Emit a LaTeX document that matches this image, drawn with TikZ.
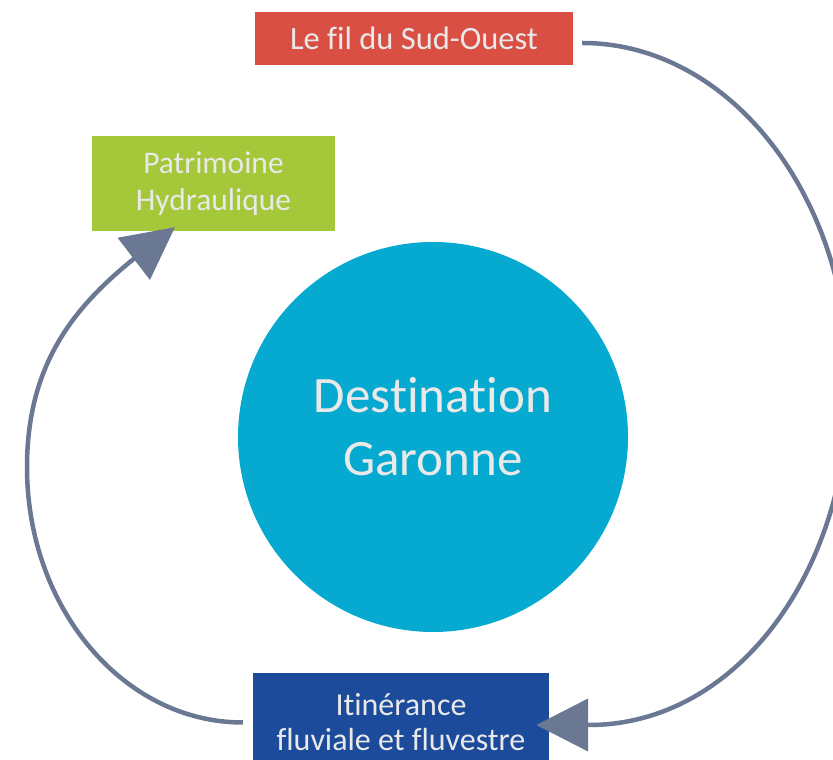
\documentclass[tikz,border=0pt]{standalone}
\usepackage{fontspec}
\setmainfont[Ligatures=NoCommon]{Carlito}
\usetikzlibrary{arrows.meta,bending}
\definecolor{sudred}{HTML}{D94F43}
\definecolor{patgreen}{HTML}{A5C83B}
\definecolor{itinblue}{HTML}{1C4B9C}
\definecolor{garcyan}{HTML}{06A9CF}
\definecolor{linkgray}{HTML}{6B7893}
\definecolor{labelgray}{HTML}{E9E9E9}

\begin{document}
\begin{tikzpicture}[x=1pt, y=1pt,
    box/.style={rectangle, inner sep=0pt, align=center, text=labelgray},
    link/.style={draw=linkgray, line width=4.5pt, -{Triangle[length=52pt, width=52pt]}}]
    \useasboundingbox (0,0) rectangle (833,760);

    %% Central circle
    \node[circle, fill=garcyan, minimum size=390pt, inner sep=0pt] (gar) at (433,323) {};
    \node[box, font=\fontsize{51}{63}\selectfont] (garlabel) at ([yshift=10pt]gar.center) {Destination\\Garonne};

    %% Boxes
    \node[box, fill=sudred, minimum width=318pt, minimum height=53pt,
          font=\fontsize{32.5}{38}\selectfont] (sud) at (414,721.5) {Le fil du Sud-Ouest};
    \node[box, fill=patgreen, minimum width=243pt, minimum height=95pt,
          font=\fontsize{31.5}{37}\selectfont] (patri) at (213.5,576.5) {Patrimoine\\Hydraulique};
    \node[box, fill=itinblue, minimum width=296pt, minimum height=99pt,
          font=\fontsize{32}{35}\selectfont] (itin) at (401,37.5) {Itinérance\\fluviale et fluvestre};

    %% Ends of the arcs
    \coordinate (sudout) at ([shift={(9pt,-4.5pt)}]sud.east);
    \coordinate (itinin) at ([shift={(-13pt,-2.5pt)}]itin.east);
    \coordinate (itinout) at ([xshift=-10pt]itin.west);
    \coordinate (patriin) at ([shift={(-38.5pt,4pt)}]patri.south);

    %% Right arc: red box to blue box
    \draw[link] (sudout) .. controls (729.5,717) and (849,564.3) .. (849,376)
        .. controls (849,187.7) and (736,35) .. (589,35) -- (itinin);

    %% Left arc: blue box to green box
    \draw[link] (itinout) .. controls (123.7,37.5) and (27,151.6) .. (27,293)
        .. controls (27,423) and (103,479) .. (patriin);
\end{tikzpicture}
\end{document}
